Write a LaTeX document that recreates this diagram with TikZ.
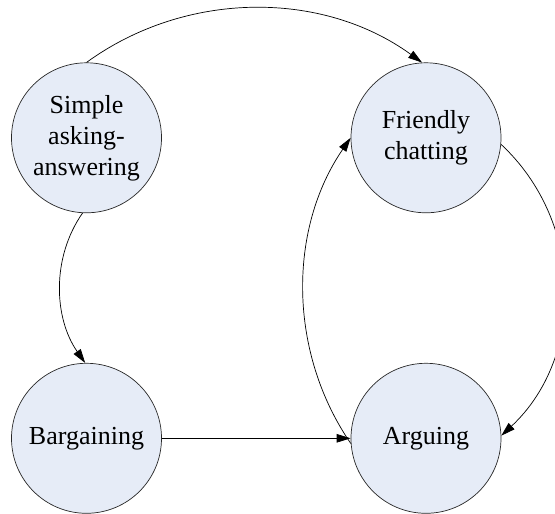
\documentclass[tikz,border=0pt]{standalone}
\usepackage{fontspec}
\setmainfont{Liberation Serif}
\usetikzlibrary{arrows.meta}
\definecolor{statefill}{RGB}{230,236,247}
\definecolor{stateline}{RGB}{40,40,40}
\begin{document}
\begin{tikzpicture}[x=1pt,y=1pt,
  state/.style={circle,draw=stateline,line width=0.7pt,fill=statefill,minimum size=150pt,inner sep=0pt,align=center,font=\fontsize{26}{31}\selectfont},
  conn/.style={draw=black,line width=0.7pt,-{Triangle[length=14pt,width=8.5pt]}}]
\useasboundingbox (0,0) rectangle (555,514);
\node[state] (S) at (86.5,376.2) {Simple\\asking-\\answering};
\node[state] (F) at (426,376.2) {Friendly\\chatting};
\node[state] (B) at (86.5,75.7) {Bargaining};
\node[state] (A) at (426,75.7) {Arguing};
\draw[conn] (S.90) to[out=36,in=144,looseness=0.94] (F.93);
\draw[conn] (S.267) to[out=235,in=125,looseness=0.93] (B.91);
\draw[conn] (B.east) -- (A.west);
\draw[conn] (A.184) to[out=124.5,in=235.5,looseness=0.93] (F.180);
\draw[conn] (F.-5) to[out=-43,in=43,looseness=1.01] (A.2);
\end{tikzpicture}
\end{document}
